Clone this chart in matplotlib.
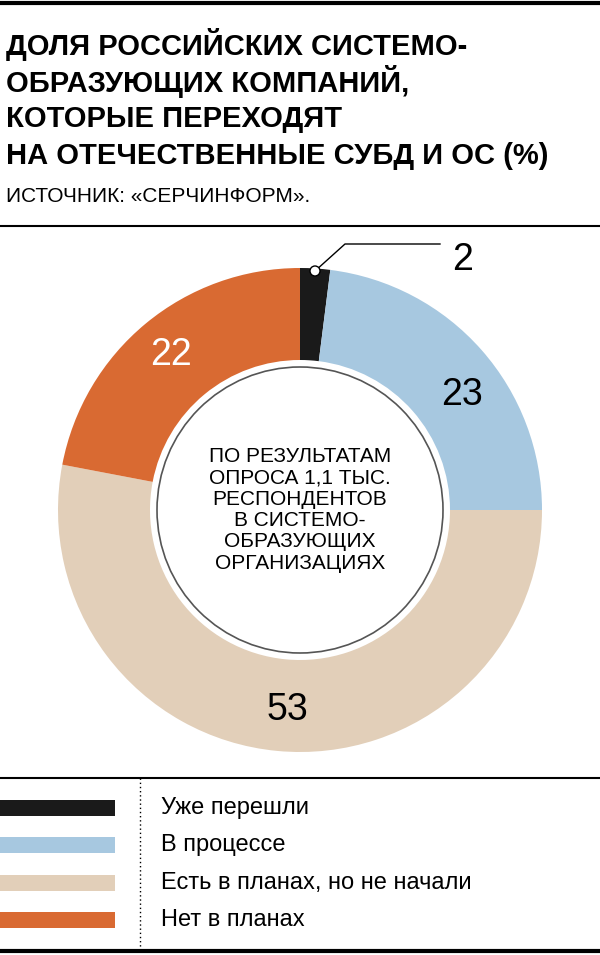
import matplotlib.pyplot as plt
from matplotlib.patches import Circle, Rectangle

plt.rcParams["font.family"] = ["Liberation Sans Narrow", "Liberation Sans", "DejaVu Sans"]

title_lines = ["ДОЛЯ РОССИЙСКИХ СИСТЕМО-", "ОБРАЗУЮЩИХ КОМПАНИЙ,",
               "КОТОРЫЕ ПЕРЕХОДЯТ", "НА ОТЕЧЕСТВЕННЫЕ СУБД И ОС (%)"]
source = "ИСТОЧНИК: «СЕРЧИНФОРМ»."
categories = ["Уже перешли", "В процессе", "Есть в планах, но не начали", "Нет в планах"]
values = [2, 23, 53, 22]
colors = ["#1a1a1a", "#a7c8e0", "#e2cfb9", "#d96a32"]
center_text = "ПО РЕЗУЛЬТАТАМ\nОПРОСА 1,1 ТЫС.\nРЕСПОНДЕНТОВ\nВ СИСТЕМО-\nОБРАЗУЮЩИХ\nОРГАНИЗАЦИЯХ"

H = 955
fig = plt.figure(figsize=(6, 9.55), dpi=100)
ax = fig.add_axes([0, 0, 1, 1])

def Y(y):
    return H - y

cx, cy, R = 300, Y(510), 242
ax.pie(values, colors=colors, startangle=90, counterclock=False, radius=R,
       center=(cx, cy), wedgeprops=dict(width=R - 150, linewidth=0),
       frame=True)
ax.set_xlim(0, 600)
ax.set_ylim(0, H)
ax.set_aspect("equal")
ax.axis("off")

# rules
ax.plot([0, 600], [Y(3), Y(3)], color="black", lw=3)
ax.plot([0, 600], [Y(226), Y(226)], color="black", lw=1.5)
ax.plot([0, 600], [Y(778), Y(778)], color="black", lw=1.5)
ax.plot([0, 600], [Y(951), Y(951)], color="black", lw=3)
ax.plot([140, 140], [Y(778), Y(951)], color="black", lw=1, ls=(0, (1, 2)))

for i, t in enumerate(title_lines):
    ax.text(6, Y(45 + i * 37), t, fontsize=21, fontweight="bold", va="center", ha="left")
ax.text(6, Y(196), source, fontsize=15, va="center", ha="left")

ax.add_patch(Circle((cx, cy), 143, facecolor="white", edgecolor="#555555", lw=1.2, zorder=3))
ax.text(cx, cy, center_text, ha="center", va="center", fontsize=15, linespacing=1.15, zorder=4)

# value labels
ax.text(463, Y(260), str(values[0]), fontsize=27, ha="center", va="center")
ax.plot([315, 345, 440], [Y(271), Y(244), Y(244)], color="black", lw=1)
ax.add_patch(Circle((315, Y(271)), 5, facecolor="white", edgecolor="black", lw=1, zorder=5))
ax.text(462, Y(395), str(values[1]), fontsize=27, ha="center", va="center")
ax.text(287, Y(710), str(values[2]), fontsize=27, ha="center", va="center")
ax.text(171, Y(355), str(values[3]), fontsize=27, ha="center", va="center", color="white")

for i, (c, col) in enumerate(zip(categories, colors)):
    y = 808 + i * 37.5
    ax.add_patch(Rectangle((0, Y(y) - 8), 115, 16, facecolor=col, edgecolor="none"))
    ax.text(161, Y(y), c, fontsize=17, va="center", ha="left")

fig.savefig("out.png", dpi=100)
